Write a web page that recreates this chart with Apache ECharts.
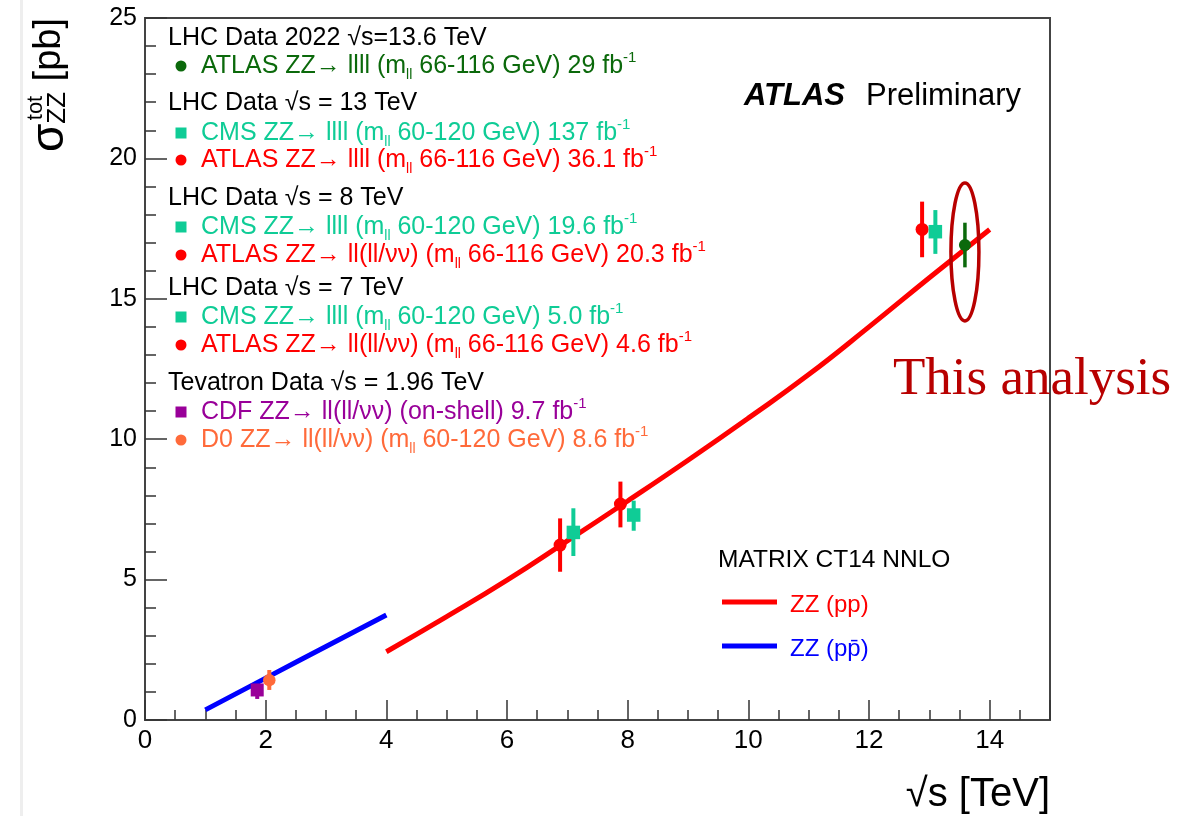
<!DOCTYPE html>
<html><head><meta charset="utf-8">
<script src="https://cdn.jsdelivr.net/npm/echarts@6/dist/echarts.min.js"></script>
<style>html,body{margin:0;padding:0;background:#fff}#c{width:1194px;height:816px}</style>
</head><body><div id="c"></div>
<script>
const FONT = '"Liberation Sans", Arial, Helvetica, sans-serif';
const SERIF = '"Liberation Serif", "Times New Roman", serif';

// ---- theory curves (MATRIX CT14 NNLO): [sqrt(s) TeV, sigma pb]
const ppTheory = [[4,2.43],[5,3.68],[6,4.98],[7,6.38],[8,7.8],[9,9.25],[10,10.75],[11,12.3],[12,14.0],[13,15.75],[14,17.47]];
const ppbarTheory = [[1,0.36],[2,1.49],[3,2.62],[4,3.74]];

// ---- measurements: [sqrt(s) (displaced for display), sigma, low, high]
const atlas2022 = [[13.59,16.92,16.12,17.71]];
const cmsData = [[13.1,17.39,16.6,18.16],[8.1,7.3,6.74,7.81],[7.1,6.68,5.84,7.54]];
const atlasData = [[12.88,17.47,16.48,18.46],[7.88,7.69,6.86,8.49],[6.88,6.23,5.28,7.18]];
const cdfData = [[1.86,1.07,0.75,1.28]];
const d0Data = [[2.06,1.42,1.07,1.78]];

// ---- legend text
const legendHeaders = ['LHC Data 2022 \u221As=13.6 TeV','LHC Data \u221As = 13 TeV','LHC Data \u221As = 8 TeV','LHC Data \u221As = 7 TeV','Tevatron Data \u221As = 1.96 TeV'];
const legendEntries = [
  ['ATLAS ZZ\u2192 llll (m','ll',' 66-116 GeV) 29 fb','-1'],
  ['CMS ZZ\u2192 llll (m','ll',' 60-120 GeV) 137 fb','-1'],
  ['ATLAS ZZ\u2192 llll (m','ll',' 66-116 GeV) 36.1 fb','-1'],
  ['CMS ZZ\u2192 llll (m','ll',' 60-120 GeV) 19.6 fb','-1'],
  ['ATLAS ZZ\u2192 ll(ll/\u03BD\u03BD) (m','ll',' 66-116 GeV) 20.3 fb','-1'],
  ['CMS ZZ\u2192 llll (m','ll',' 60-120 GeV) 5.0 fb','-1'],
  ['ATLAS ZZ\u2192 ll(ll/\u03BD\u03BD) (m','ll',' 66-116 GeV) 4.6 fb','-1'],
  ['CDF ZZ\u2192 ll(ll/\u03BD\u03BD) (on-shell) 9.7 fb','','','-1'],
  ['D0 ZZ\u2192 ll(ll/\u03BD\u03BD) (m','ll',' 60-120 GeV) 8.6 fb','-1']
];
const theoryTitle = 'MATRIX CT14 NNLO';
const theoryLabels = ['ZZ (pp)','ZZ (p\u0070\u0304)'];
const annotation = 'This analysis';

const C = {green:'#0b690b', teal:'#0fcc96', red:'#ff0000', purple:'#990099', orange:'#ff6a3a', blue:'#0000ff', dark:'#b80000'};
const entryStyle = [
  ['circle',C.green],['rect',C.teal],['circle',C.red],['rect',C.teal],['circle',C.red],
  ['rect',C.teal],['circle',C.red],['rect',C.purple],['circle',C.orange]
];
// layout
const headerY = [38,103,198,288,383];
const entryY = [66,133,160,227,255,317,345,412,440];
const LF = 25;

function errItem(shape, color, size, bw) {
  return function (params, api) {
    const p = api.coord([api.value(0), api.value(1)]);
    const lo = api.coord([api.value(0), api.value(2)]);
    const hi = api.coord([api.value(0), api.value(3)]);
    const ch = [{type:'line', shape:{x1:p[0], y1:lo[1], x2:p[0], y2:hi[1]}, style:{stroke:color, lineWidth:bw}}];
    if (shape === 'circle') ch.push({type:'circle', shape:{cx:p[0], cy:p[1], r:size/2}, style:{fill:color}});
    else ch.push({type:'rect', shape:{x:p[0]-size/2, y:p[1]-size/2, width:size, height:size}, style:{fill:color}});
    return {type:'group', children:ch};
  };
}
function customSeries(data, shape, color, size, bw) {
  return {type:'custom', data:data, renderItem:errItem(shape, color, size, bw), encode:{x:0, y:1}, z:5, silent:true};
}

const rich = {
  t:{fontSize:LF, fontFamily:FONT, verticalAlign:'middle'},
  s:{fontSize:14, fontFamily:FONT, padding:[19,0,0,0], verticalAlign:'middle'},
  p:{fontSize:15, fontFamily:FONT, padding:[0,0,17,0], verticalAlign:'middle'}
};
function richText(parts, color) {
  let s = '{t|' + parts[0] + '}';
  if (parts[1]) s += '{s|' + parts[1] + '}';
  if (parts[2]) s += '{t|' + parts[2] + '}';
  if (parts[3]) s += '{p|' + parts[3] + '}';
  const r = {};
  for (const k in rich) r[k] = Object.assign({}, rich[k], {fill:color});
  return {text:s, rich:r};
}

const graphics = [];
legendHeaders.forEach((h, i) => {
  graphics.push({type:'text', x:168, y:headerY[i], style:{text:h, fontSize:LF, fontFamily:FONT, fill:'#000', verticalAlign:'middle'}});
});
legendEntries.forEach((e, i) => {
  const [shape, color] = entryStyle[i];
  const y = entryY[i];
  if (shape === 'circle') graphics.push({type:'circle', shape:{cx:181, cy:y, r:5.5}, style:{fill:color}});
  else graphics.push({type:'rect', shape:{x:175.5, y:y-5.5, width:11, height:11}, style:{fill:color}});
  const rt = richText(e, color);
  graphics.push({type:'text', x:201, y:y, style:Object.assign({textAlign:'left', verticalAlign:'middle'}, rt)});
});
// ATLAS Preliminary
graphics.push({type:'text', x:744, y:96, style:{text:'ATLAS', fontSize:31, fontWeight:'bold', fontStyle:'italic', fontFamily:FONT, fill:'#000', verticalAlign:'middle'}});
graphics.push({type:'text', x:866, y:96, style:{text:'Preliminary', fontSize:31, fontFamily:FONT, fill:'#000', verticalAlign:'middle'}});
// theory legend
graphics.push({type:'text', x:718, y:560, style:{text:theoryTitle, fontSize:24.5, fontFamily:FONT, fill:'#000', verticalAlign:'middle'}});
[[C.red,602],[C.blue,646]].forEach((d, i) => {
  graphics.push({type:'line', shape:{x1:722, y1:d[1], x2:777, y2:d[1]}, style:{stroke:d[0], lineWidth:5}});
  graphics.push({type:'text', x:790, y:d[1]+3, style:{text:theoryLabels[i], fontSize:24, fontFamily:FONT, fill:d[0], verticalAlign:'middle'}});
});
// annotation text
graphics.push({type:'text', x:893, y:380, style:{text:annotation, fontSize:53, fontFamily:SERIF, fill:C.dark, verticalAlign:'middle'}});
// axis titles
graphics.push({type:'text', x:1050, y:795, style:{text:'\u221As [TeV]', fontSize:40, fontFamily:FONT, fill:'#000', align:'right', verticalAlign:'middle'}});
graphics.push({type:'text', x:50, y:18, rotation:Math.PI/2, style:{text:'{a|\u03C3}{z|ZZ}{b| [pb]}', align:'right', verticalAlign:'middle', rich:{
  a:{fontSize:46, fontFamily:FONT, fill:'#000', verticalAlign:'middle'},
  z:{fontSize:26, fontFamily:FONT, fill:'#000', padding:[16,0,0,0], verticalAlign:'middle'},
  b:{fontSize:38, fontFamily:FONT, fill:'#000', verticalAlign:'middle'}}}});
graphics.push({type:'text', x:36, y:108, rotation:Math.PI/2, style:{text:'tot', fontSize:22, fontFamily:FONT, fill:'#000', align:'center', verticalAlign:'middle'}});
// faint edge shading (scan artifacts)
graphics.push({type:'rect', shape:{x:20, y:0, width:3, height:816}, style:{fill:'#eeeeee'}, z:-1});

const isEven = v => Math.abs(v - Math.round(v / 2) * 2) < 1e-6;
const isFive = v => Math.abs(v - Math.round(v / 5) * 5) < 1e-6;
const tickColor = '#333';
const baseAxis = {type:'value', splitLine:{show:false}, axisLine:{show:true, lineStyle:{color:'#444', width:2}}};

const option = {
  animation:false,
  backgroundColor:'#ffffff',
  grid:{left:145, top:18, width:905, height:702, show:true, borderColor:'#444', borderWidth:2, backgroundColor:'rgba(0,0,0,0)'},
  xAxis:[
    Object.assign({}, baseAxis, {min:0, max:15, interval:0.5,
      axisTick:{inside:true, length:10, lineStyle:{color:tickColor, width:1.5}},
      axisLabel:{fontSize:26, color:'#000', fontFamily:FONT, margin:8, formatter:v => isEven(v) && v < 15 ? String(Math.round(v)) : ''}}),
    {type:'value', min:0, max:15, interval:2, position:'bottom', splitLine:{show:false}, axisLine:{show:false},
      axisTick:{inside:true, length:20, lineStyle:{color:tickColor, width:1.5}}, axisLabel:{show:false}}
  ],
  yAxis:[
    Object.assign({}, baseAxis, {min:0, max:25, interval:1,
      axisTick:{inside:true, length:11, lineStyle:{color:tickColor, width:1.5}},
      axisLabel:{fontSize:25, color:'#000', fontFamily:FONT, margin:8, formatter:v => isFive(v) ? String(Math.round(v)) : ''}}),
    {type:'value', min:0, max:25, interval:5, position:'left', splitLine:{show:false}, axisLine:{show:false},
      axisTick:{inside:true, length:22, lineStyle:{color:tickColor, width:1.5}}, axisLabel:{show:false}}
  ],
  series:[
    {type:'line', data:ppTheory, smooth:true, showSymbol:false, lineStyle:{color:C.red, width:5}, z:3, silent:true},
    {type:'line', data:ppbarTheory, smooth:true, showSymbol:false, lineStyle:{color:C.blue, width:5}, z:3, silent:true},
    customSeries(cdfData, 'rect', C.purple, 13, 4),
    customSeries(d0Data, 'circle', C.orange, 12.5, 4),
    customSeries(atlasData, 'circle', C.red, 13, 4),
    customSeries(cmsData, 'rect', C.teal, 13.5, 4),
    customSeries(atlas2022, 'circle', C.green, 12, 3.5)
  ],
  graphic:graphics
};

const chart = echarts.init(document.getElementById('c'), null, {renderer:'canvas'});
chart.setOption(option);
// ellipse highlighting the 13.6 TeV measurement
const ctr = chart.convertToPixel({xAxisIndex:0, yAxisIndex:0}, [atlas2022[0][0], atlas2022[0][1]]);
graphics.push({type:'ellipse', shape:{cx:ctr[0], cy:ctr[1]+7, rx:14, ry:69}, style:{fill:'none', stroke:C.dark, lineWidth:3.5}, z:10});
chart.setOption({graphic:graphics});
</script></body></html>
